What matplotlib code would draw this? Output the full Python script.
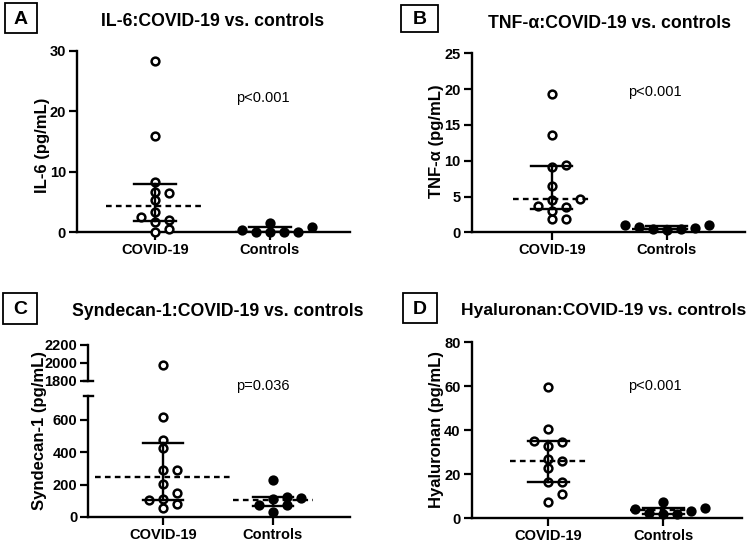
import matplotlib
matplotlib.use("Agg")
import matplotlib.pyplot as plt
from matplotlib.patches import Rectangle

plt.rcParams["font.family"] = ["Liberation Sans", "DejaVu Sans"]

W, H = 749, 542

groups = ["COVID-19", "Controls"]

# IL-6 (pg/mL)
il6_covid = [28.3, 16.0, 8.3, 6.7, 6.5, 5.4, 3.4, 2.5, 2.1, 1.7, 0.6, 0.05]
il6_controls = [1.55, 0.8, 0.35, 0.0, 0.0, 0.0, 0.0]
il6_median = [4.4, 0.0]
il6_q1 = [1.9, 0.0]
il6_q3 = [8.0, 0.8]

# TNF-alpha (pg/mL)
tnf_covid = [19.3, 13.6, 9.4, 9.1, 6.5, 4.6, 4.5, 3.7, 3.6, 3.0, 1.9, 1.9]
tnf_controls = [1.0, 1.0, 0.8, 0.55, 0.45, 0.4, 0.35]
tnf_median = [4.6, 0.5]
tnf_q1 = [3.2, 0.4]
tnf_q3 = [9.2, 0.9]

# Syndecan-1 (pg/mL)
syn_covid = [1980, 616, 476, 425, 291, 291, 202, 150, 109, 103, 78, 58]
syn_controls = [229, 122, 116, 109, 74, 74, 33]
syn_median = [249, 105]
syn_q1 = [103, 70]
syn_q3 = [460, 125]

# Hyaluronan (pg/mL)
hya_covid = [59.6, 40.5, 35.2, 34.8, 32.8, 26.8, 26.0, 22.7, 16.6, 16.6, 10.9, 7.5]
hya_controls = [7.5, 4.8, 4.2, 3.4, 2.3, 1.9, 1.9]
hya_median = [26.1, 3.8]
hya_q1 = [16.6, 2.0]
hya_q3 = [35.2, 4.5]

p_values = ["p<0.001", "p<0.001", "p=0.036", "p<0.001"]


def px_axes(left, top, right, bottom):
    return fig.add_axes([left / W, 1 - bottom / H, (right - left) / W, (bottom - top) / H])


def fig_text(x, y, s, **kw):
    fig.text(x / W, 1 - y / H, s, **kw)


def style_axes(ax, bottom=True):
    for side in ["top", "right"]:
        ax.spines[side].set_visible(False)
    ax.spines["left"].set_linewidth(1.7)
    ax.spines["bottom"].set_linewidth(1.7)
    ax.tick_params(width=1.6, length=6, labelsize=10.5, pad=2)
    for lab in ax.get_yticklabels():
        lab.set_fontweight("bold")
    if bottom:
        ax.set_xticks([1, 2])
        ax.set_xticklabels(groups, fontweight="bold", fontsize=10.5)
        ax.tick_params(axis="x", pad=2)
    else:
        ax.spines["bottom"].set_visible(False)
        ax.set_xticks([])


def swarm(ax, values, center, step_px=14.0, min_px=7.5):
    tr = ax.transData
    ppu = tr.transform((1, 0))[0] - tr.transform((0, 0))[0]
    placed = []
    xs, ys = [], []
    for v in sorted(values):
        y = tr.transform((center, v))[1]
        for k in [0, 1, -1, 2, -2, 3, -3]:
            dx = k * step_px
            if all(abs(dx - px) >= step_px * 0.5 or abs(y - py) >= min_px for px, py in placed):
                break
        placed.append((dx, y))
        xs.append(center + dx / ppu)
        ys.append(v)
    return xs, ys


def draw_group(ax, values, center, filled, med, q1, q3, med_w, cap_w=0.18):
    xs, ys = swarm(ax, values, center)
    ax.plot(xs, ys, "o", ms=5.6, mew=1.8, mec="black",
            mfc="black" if filled else "white", zorder=3, clip_on=False)
    ax.plot([center, center], [q1, q3], color="black", lw=1.7, zorder=4)
    ax.plot([center - cap_w, center + cap_w], [q3, q3], color="black", lw=1.7, zorder=4)
    ax.plot([center - cap_w, center + cap_w], [q1, q1], color="black", lw=1.7, zorder=4)
    ax.plot([center - med_w, center + med_w], [med, med], color="black", lw=1.7,
            ls=(0, (2.4, 1.8)), zorder=4)


def label_box(x0, y0, x1, y1, letter):
    fig.patches.append(Rectangle((x0 / W, 1 - y1 / H), (x1 - x0) / W, (y1 - y0) / H,
                                 transform=fig.transFigure, fill=False, lw=1.3,
                                 edgecolor="black"))
    fig_text((x0 + x1) / 2, (y0 + y1) / 2 + 1, letter, ha="center", va="center",
             fontsize=14, fontweight="bold")


fig = plt.figure(figsize=(W / 100, H / 100), dpi=100)

# Panel A
ax = px_axes(77, 51, 350, 232.3)
ax.set_xlim(0.322, 2.696)
ax.set_ylim(0, 30)
ax.set_yticks([0, 10, 20, 30])
style_axes(ax)
draw_group(ax, il6_covid, 1, False, il6_median[0], il6_q1[0], il6_q3[0], 0.43)
draw_group(ax, il6_controls, 2, True, il6_median[1], il6_q1[1], il6_q3[1], 0.3)
label_box(5, 3, 37, 33, "A")
fig_text(213, 22, "IL-6:COVID-19 vs. controls", ha="center", va="center",
         fontsize=12.7, fontweight="bold")
fig_text(42, 145, "IL-6 (pg/mL)", ha="center", va="center", rotation=90,
         fontsize=12, fontweight="bold")
fig_text(263, 98, p_values[0], ha="center", va="center", fontsize=10.5)

# Panel B
ax = px_axes(471.7, 53.3, 745, 232.3)
ax.set_xlim(0.304, 2.68)
ax.set_ylim(0, 25)
ax.set_yticks([0, 5, 10, 15, 20, 25])
style_axes(ax)
draw_group(ax, tnf_covid, 1, False, tnf_median[0], tnf_q1[0], tnf_q3[0], 0.34)
draw_group(ax, tnf_controls, 2, True, tnf_median[1], tnf_q1[1], tnf_q3[1], 0.3)
label_box(401, 5, 438, 32, "B")
fig_text(610, 23, "TNF-α:COVID-19 vs. controls", ha="center", va="center",
         fontsize=12.7, fontweight="bold")
fig_text(436, 141, "TNF-α (pg/mL)", ha="center", va="center", rotation=90,
         fontsize=12, fontweight="bold")
fig_text(655, 92, p_values[1], ha="center", va="center", fontsize=10.5)

# Panel C, broken y axis
ax_lo = px_axes(88.3, 395.7, 350, 517)
ax_lo.set_xlim(0.321, 2.70)
ax_lo.set_ylim(0, 750)
ax_lo.set_yticks([0, 200, 400, 600])
style_axes(ax_lo)
ax_hi = px_axes(88.3, 345, 350, 380.7)
ax_hi.set_xlim(0.321, 2.70)
ax_hi.set_ylim(1800, 2200)
ax_hi.set_yticks([1800, 2000, 2200])
style_axes(ax_hi, bottom=False)
ax_hi.patch.set_visible(False)
syn_low = [v for v in syn_covid if v < 1800]
syn_high = [v for v in syn_covid if v >= 1800]
draw_group(ax_lo, syn_low, 1, False, syn_median[0], syn_q1[0], syn_q3[0], 0.62)
draw_group(ax_lo, syn_controls, 2, True, syn_median[1], syn_q1[1], syn_q3[1], 0.36)
xs, ys = swarm(ax_hi, syn_high, 1)
ax_hi.plot(xs, ys, "o", ms=5.6, mew=1.8, mec="black", mfc="white", zorder=3)
# break marks on the y axis
ax_hi.plot([-0.018, 0.018], [0, 0], color="black", lw=1.7, transform=ax_hi.transAxes,
           clip_on=False)
ax_lo.plot([-0.018, 0.018], [1, 1], color="black", lw=1.7, transform=ax_lo.transAxes,
           clip_on=False)
label_box(3, 293, 37, 324, "C")
fig_text(218, 311, "Syndecan-1:COVID-19 vs. controls", ha="center", va="center",
         fontsize=12.7, fontweight="bold")
fig_text(40, 431, "Syndecan-1 (pg/mL)", ha="center", va="center", rotation=90,
         fontsize=12, fontweight="bold")
fig_text(263, 386, p_values[2], ha="center", va="center", fontsize=10.5)

# Panel D
ax = px_axes(471.7, 342, 741.7, 518.3)
ax.set_xlim(0.334, 2.68)
ax.set_ylim(0, 80)
ax.set_yticks([0, 20, 40, 60, 80])
style_axes(ax)
draw_group(ax, hya_covid, 1, False, hya_median[0], hya_q1[0], hya_q3[0], 0.33)
draw_group(ax, hya_controls, 2, True, hya_median[1], hya_q1[1], hya_q3[1], 0.29)
label_box(403, 293, 437, 323, "D")
fig_text(604, 311, "Hyaluronan:COVID-19 vs. controls", ha="center", va="center",
         fontsize=12.6, fontweight="bold")
fig_text(437, 430, "Hyaluronan (pg/mL)", ha="center", va="center", rotation=90,
         fontsize=12, fontweight="bold")
fig_text(655, 386, p_values[3], ha="center", va="center", fontsize=10.5)

fig.savefig("out.png", dpi=100)
